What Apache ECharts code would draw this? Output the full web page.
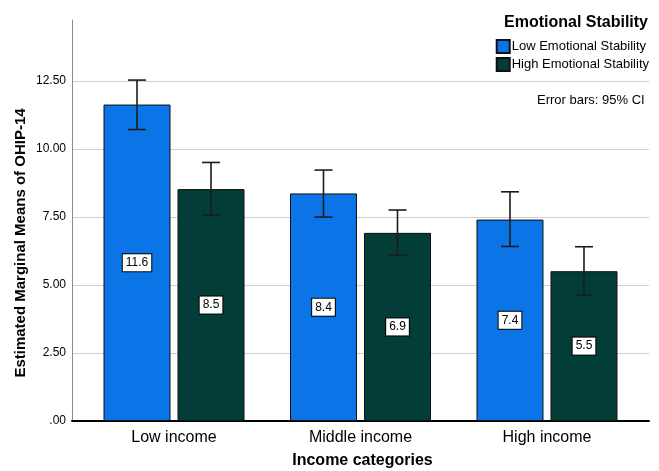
<!DOCTYPE html>
<html><head><meta charset="utf-8">
<script src="https://cdn.jsdelivr.net/npm/echarts@6/dist/echarts.min.js"></script>
<style>html,body{margin:0;padding:0;background:#fff;overflow:hidden}#c{width:659px;height:471px}</style>
</head><body><div id="c"></div>
<script>
const categories = ['Low income', 'Middle income', 'High income'];
const seriesNames = ['Low Emotional Stability', 'High Emotional Stability'];
const lowMeans = [11.64, 8.37, 7.41];
const lowCILower = [10.72, 7.50, 6.42];
const lowCIUpper = [12.54, 9.23, 8.43];
const highMeans = [8.53, 6.92, 5.51];
const highCILower = [7.57, 6.09, 4.62];
const highCIUpper = [9.51, 7.76, 6.41];
const yTicks = [0, 2.5, 5, 7.5, 10, 12.5];

const FONT = '"Liberation Sans", Arial, sans-serif';
const BAR_W = 67, GAP_PX = 7;
const colors = ['#0b74e6', '#023d38'];

function barData(vals){ return vals.map((v,i)=>[i, v]); }
function ciData(lo, hi){ return lo.map((l,i)=>[i, l, hi[i]]); }

function errRender(offset){
  return function(params, api){
    const x = api.coord([api.value(0), 0])[0] + offset;
    const yLo = api.coord([api.value(0), api.value(1)])[1];
    const yHi = api.coord([api.value(0), api.value(2)])[1];
    const cap = 9;
    const st = {stroke:'#1c1c1c', lineWidth:1.6};
    return {type:'group', children:[
      {type:'line', shape:{x1:x, y1:yHi, x2:x, y2:yLo}, style:st},
      {type:'line', shape:{x1:x-cap, y1:yHi, x2:x+cap, y2:yHi}, style:st},
      {type:'line', shape:{x1:x-cap, y1:yLo, x2:x+cap, y2:yLo}, style:st}
    ]};
  };
}

const labelCfg = {
  show:true, position:'inside', color:'#000', fontFamily:FONT, fontSize:12,
  backgroundColor:'#fff', borderColor:'#000', borderWidth:1, padding:[3,3,2,3],
  formatter: p => p.value[1].toFixed(1)
};

const chart = echarts.init(document.getElementById('c'), null, {renderer:'canvas'});
chart.setOption({
  animation:false,
  color: colors,
  grid:{left:72, right:10, top:20, bottom:50, containLabel:false, outerBoundsMode:'none'},
  title:{text:'Emotional Stability', right:11, top:15, padding:0,
    textStyle:{fontFamily:FONT, fontSize:16, fontWeight:'bold', color:'#000'}},
  legend:{orient:'vertical', right:10, top:39, padding:0, itemWidth:13, itemHeight:13, itemGap:3,
    icon:'rect', data:seriesNames,
    textStyle:{fontFamily:FONT, fontSize:13, color:'#000', padding:[0,0,0,-3]}},
  graphic:[
    {type:'text', left:537, top:94, style:{text:'Error bars: 95% CI', font:'13px '+FONT, fill:'#000'}},
    {type:'text', x:21, y:243, rotation:Math.PI/2,
      style:{text:'Estimated Marginal Means of OHIP-14', font:'bold 15px '+FONT, fill:'#000',
        align:'center', verticalAlign:'middle'}}
  ],
  xAxis:{type:'value', min:-0.547, max:2.547,
    name:'Income categories', nameLocation:'middle', nameGap:32,
    nameTextStyle:{fontFamily:FONT, fontSize:16, fontWeight:'bold', color:'#000', padding:[0,0,0,4]},
    axisLine:{show:true, onZero:false, lineStyle:{color:'#000', width:2}},
    axisTick:{show:false}, splitLine:{show:false},
    axisLabel:{customValues:[0,1,2], formatter: v => categories[Math.round(v)] || '',
      fontFamily:FONT, fontSize:16, color:'#000', margin:9}
  },
  yAxis:{type:'value', min:0, max:14.75, interval:2.5,
    axisLine:{show:true, onZero:false, lineStyle:{color:'#8c8c8c', width:1}},
    axisTick:{show:false},
    splitLine:{show:true, showMaxLine:false, lineStyle:{color:'#cfcfcf', width:1}},
    axisLabel:{showMaxLabel:false, fontFamily:FONT, fontSize:12, color:'#000', margin:6,
      formatter: v => yTicks.indexOf(v) < 0 ? '' : (v === 0 ? '.00' : v.toFixed(2))}
  },
  series:[
    {name:seriesNames[0], type:'bar', data:barData(lowMeans), barWidth:BAR_W, barGap:(GAP_PX/BAR_W*100)+'%',
      itemStyle:{color:colors[0], borderColor:'#111', borderWidth:1}, label:labelCfg},
    {name:seriesNames[1], type:'bar', data:barData(highMeans), barWidth:BAR_W, barGap:(GAP_PX/BAR_W*100)+'%',
      itemStyle:{color:colors[1], borderColor:'#111', borderWidth:1}, label:labelCfg},
    {type:'custom', renderItem:errRender(-(BAR_W+GAP_PX)/2), data:ciData(lowCILower, lowCIUpper),
      encode:{x:0, y:[1,2]}, z:5, silent:true},
    {type:'custom', renderItem:errRender((BAR_W+GAP_PX)/2), data:ciData(highCILower, highCIUpper),
      encode:{x:0, y:[1,2]}, z:5, silent:true}
  ]
});
</script></body></html>
